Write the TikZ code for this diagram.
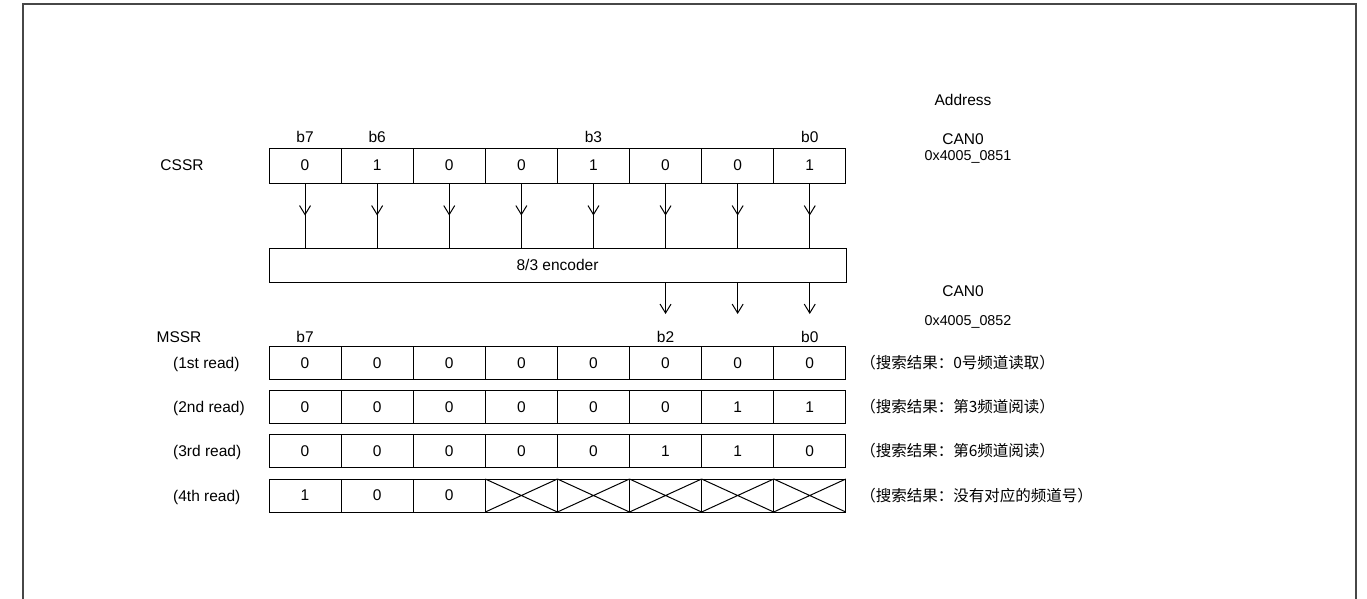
\documentclass[tikz,border=0pt]{standalone}
\usepackage{fontspec}
\setmainfont{Liberation Sans}
\newfontfamily\cjk{Noto Sans CJK SC}
\usepackage{tikz}
\usetikzlibrary{positioning,arrows.meta,decorations.markings}

\begin{document}
\begin{tikzpicture}[
  x=1pt, y=-1pt,
  every node/.style={font=\fontsize{15.5}{18}\selectfont},
  cell/.style={rectangle, draw, line width=1pt, inner sep=0pt, outer sep=0pt,
               minimum width=72.1pt, minimum height=33pt},
  csscell/.style={cell, minimum height=35pt},
  encblk/.style={rectangle, draw, line width=1pt, inner sep=0pt, outer sep=0pt,
                 minimum width=577pt, minimum height=34pt},
  lbl/.style={inner sep=0pt},
  readlbl/.style={inner sep=0pt, anchor=base west},
  addr/.style={inner sep=0pt, font=\fontsize{14.3}{16}\selectfont},
  note/.style={anchor=west, font=\cjk\fontsize{15.5}{18}\selectfont},
  xline/.style={line width=1pt},
  frameline/.style={line width=2pt, black!72},
  flowarrow/.style={-{Straight Barb[length=9pt,width=11pt]}, line width=1pt},
  midarrow/.style={line width=1pt, decoration={markings,
      mark=at position 0.5 with {\arrow{Straight Barb[length=9pt,width=11pt]}}},
      postaction={decorate}}
]
\useasboundingbox (0,0) rectangle (1367,598);
\draw[frameline] (23,600) -- (23,4) -- (1356,4) -- (1356,600);

% CSSR
\node[lbl] (cssr) at (182,165.5) {CSSR};
\foreach \v [count=\i] in {0,1,0,0,1,0,0,1}
  \node[csscell] (cs\i) at ({269+72.1*(\i-0.5)},165.5) {\v};
\node[lbl] (cb7) at (cs1 |- 0,137) {b7};
\node[lbl] (cb6) at (cs2 |- 0,137) {b6};
\node[lbl] (cb3) at (cs5 |- 0,137) {b3};
\node[lbl] (cb0) at (cs8 |- 0,137) {b0};

\node[lbl]  (adr)  at (963,100) {Address};
\node[lbl]  (can1) at (963,139) {CAN0};
\node[addr] (ad1)  at (968,157) {0x4005\_0851};

% encoder
\node[encblk] (enc) at (557.5,265) {8/3 encoder};
\foreach \i in {1,...,8}
  \draw[midarrow] (cs\i.south) -- (cs\i.south |- enc.north);
\foreach \i in {6,7,8} {
  \coordinate (out\i) at (cs\i |- 0,314);
  \draw[flowarrow] (cs\i |- enc.south) -- (out\i);
}

\node[lbl]  (can2) at (963,291) {CAN0};
\node[addr] (ad2)  at (968,322) {0x4005\_0852};

% MSSR
\node[lbl] (mssr) at (179,337) {MSSR};
\foreach \v [count=\i] in {0,0,0,0,0,0,0,0}
  \node[cell] (ra\i) at ({269+72.1*(\i-0.5)},363) {\v};
\foreach \v [count=\i] in {0,0,0,0,0,0,1,1}
  \node[cell] (rb\i) at ({269+72.1*(\i-0.5)},407) {\v};
\foreach \v [count=\i] in {0,0,0,0,0,1,1,0}
  \node[cell] (rc\i) at ({269+72.1*(\i-0.5)},451) {\v};
\foreach \v [count=\i] in {1,0,0,{},{},{},{},{}}
  \node[cell] (rd\i) at ({269+72.1*(\i-0.5)},495.5) {\v};
\foreach \i in {4,...,8}
  \draw[xline] (rd\i.north west) -- (rd\i.south east)
               (rd\i.south west) -- (rd\i.north east);

\node[lbl] (mb7) at (ra1 |- 0,337) {b7};
\node[lbl] (mb2) at (ra6 |- 0,337) {b2};
\node[lbl] (mb0) at (ra8 |- 0,337) {b0};

\node[readlbl] (rla) at (173,368.5) {(1st read)};
\node[readlbl] (rlb) at (173,412.5) {(2nd read)};
\node[readlbl] (rlc) at (173,456.5) {(3rd read)};
\node[readlbl] (rld) at (173,501) {(4th read)};

\node[note, right=11pt of ra8] (na) {（搜索结果：0号频道读取）};
\node[note, right=11pt of rb8] (nb) {（搜索结果：第3频道阅读）};
\node[note, right=11pt of rc8] (nc) {（搜索结果：第6频道阅读）};
\node[note, right=11pt of rd8] (nd) {（搜索结果：没有对应的频道号）};

\end{tikzpicture}
\end{document}
